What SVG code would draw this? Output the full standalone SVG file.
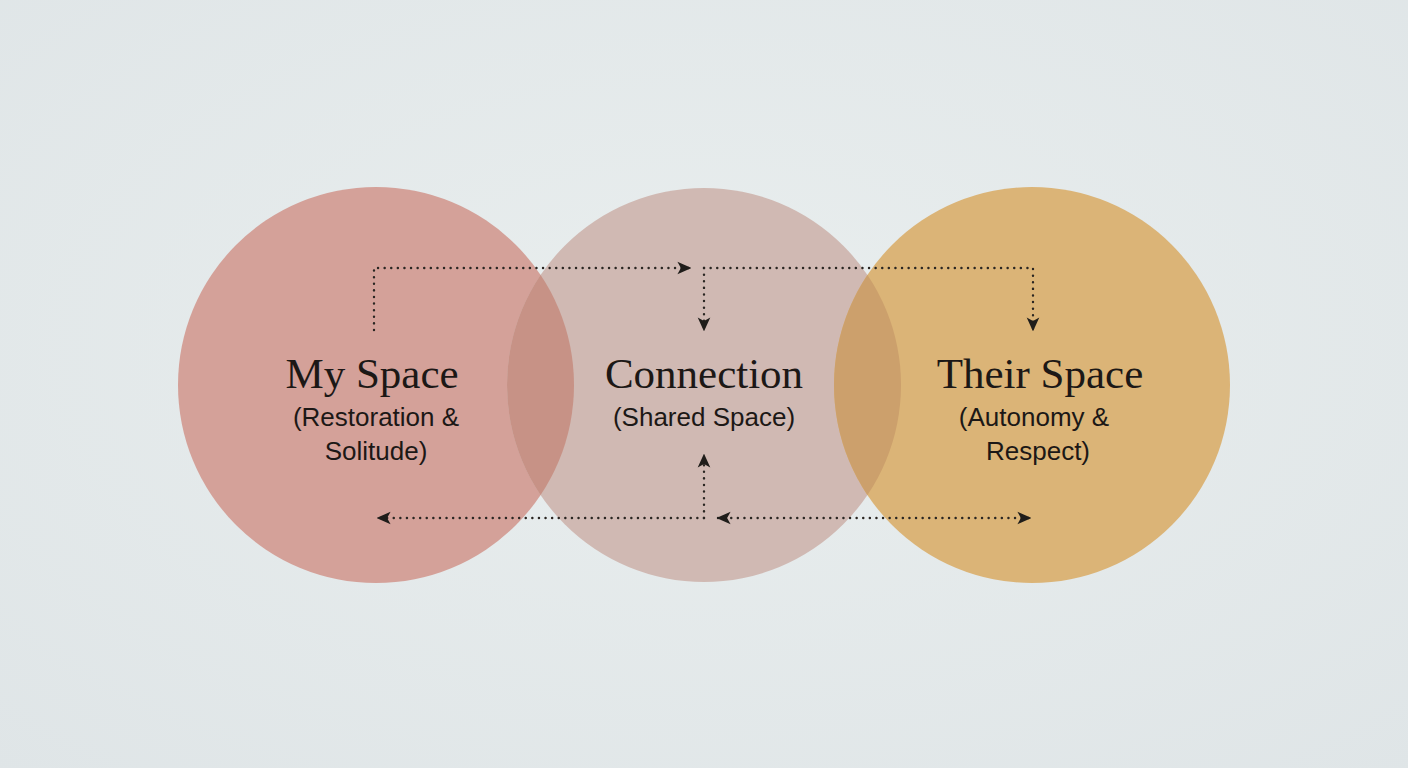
<svg xmlns="http://www.w3.org/2000/svg" width="1408" height="768" viewBox="0 0 1408 768">
<defs>
<radialGradient id="bg" cx="50%" cy="45%" r="75%">
<stop offset="0" stop-color="#e9eeee"/>
<stop offset="1" stop-color="#dfe5e7"/>
</radialGradient>
<clipPath id="cL"><circle cx="376" cy="385" r="198"/></clipPath>
<clipPath id="cR"><circle cx="1032" cy="385" r="198"/></clipPath>
<marker id="ah" viewBox="0 0 10 10" refX="9" refY="5" markerWidth="14" markerHeight="14" markerUnits="userSpaceOnUse" orient="auto-start-reverse">
<path d="M0,0.5 L10,5 L0,9.5 L2.5,5 Z" fill="#1f1d1a"/>
</marker>
<style>
.t{font-family:"Liberation Serif","DejaVu Serif",serif;font-size:43px;fill:#1c1816;text-anchor:middle}
.s{font-family:"Liberation Sans","Arial",sans-serif;font-size:26px;fill:#1c1816;text-anchor:middle}
.c{fill:none;stroke:#2a2622;stroke-width:2.4;stroke-dasharray:0.1 6.5;stroke-linecap:round}
</style>
</defs>
<rect width="1408" height="768" fill="url(#bg)"/>
<g id="node-my-space">
<circle cx="376" cy="385" r="198" fill="#d4a199"/>
</g>
<g id="node-connection">
<circle cx="704" cy="385" r="197" fill="#d0b9b3"/>
<circle cx="704" cy="385" r="197" fill="#c79286" clip-path="url(#cL)"/>
</g>
<g id="node-their-space">
<circle cx="1032" cy="385" r="198" fill="#dbb477"/>
<circle cx="704" cy="385" r="197" fill="#cca06c" clip-path="url(#cR)"/>
</g>
<g id="labels">
<text class="t" x="372" y="388">My Space</text>
<text class="s" x="376" y="426">(Restoration &amp;</text>
<text class="s" x="376" y="460">Solitude)</text>
<text class="t" x="704" y="388">Connection</text>
<text class="s" x="704" y="426">(Shared Space)</text>
<text class="t" x="1040" y="388">Their Space</text>
<text class="s" x="1034" y="426">(Autonomy &amp;</text>
<text class="s" x="1038" y="460">Respect)</text>
</g>
<g id="connectors">
<path class="c" d="M374,330 L374,268 L690,268" marker-end="url(#ah)"/>
<path class="c" d="M704,268 L704,330" marker-end="url(#ah)"/>
<path class="c" d="M704,268 L1033,268 L1033,330" marker-end="url(#ah)"/>
<path class="c" d="M704,518 L378,518" marker-end="url(#ah)"/>
<path class="c" d="M704,518 L704,455" marker-end="url(#ah)"/>
<path class="c" d="M718,518 L1030,518" marker-start="url(#ah)" marker-end="url(#ah)"/>
</g>
</svg>
